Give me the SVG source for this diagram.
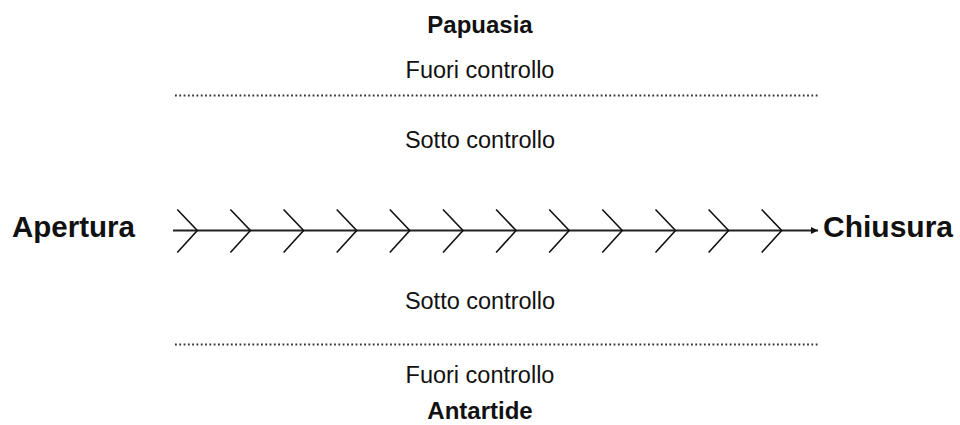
<svg xmlns="http://www.w3.org/2000/svg" width="960" height="425" viewBox="0 0 960 425">
<style>
.t{font-family:"Liberation Sans",Arial,sans-serif;fill:#111;}
.b{font-weight:bold;}
.c{text-anchor:middle;}
.dot{stroke:#333;stroke-width:1.8;stroke-dasharray:1.8 2.5;fill:none;}
.chev{stroke:#111;stroke-width:1.6;fill:none;}
</style>
<defs>
<marker id="ah" viewBox="0 0 10 10" refX="10" refY="5" markerWidth="7" markerHeight="7" markerUnits="userSpaceOnUse" orient="auto"><path d="M0,0 L10,5 L0,10 z" fill="#111"/></marker>
<path id="cv" d="M-20,-21 L0,0 L-20,22" class="chev"/>
</defs>
<g id="papuasia"><text class="t b c" x="480" y="33" font-size="24">Papuasia</text></g>
<g id="fuori-top"><text class="t c" x="480" y="78" font-size="23.5">Fuori controllo</text></g>
<g id="sotto-top"><text class="t c" x="480" y="148" font-size="23.5">Sotto controllo</text></g>
<g id="apertura"><text class="t b" x="12" y="237" font-size="29.5">Apertura</text></g>
<g id="chiusura"><text class="t b" x="823" y="237" font-size="30">Chiusura</text></g>
<g id="sotto-bottom"><text class="t c" x="480" y="309" font-size="23.5">Sotto controllo</text></g>
<g id="fuori-bottom"><text class="t c" x="480" y="383" font-size="23.5">Fuori controllo</text></g>
<g id="antartide"><text class="t b c" x="480" y="419" font-size="24">Antartide</text></g>
<g id="connectors">
<line class="dot" x1="175" y1="95.5" x2="818" y2="95.5"/>
<line class="dot" x1="175" y1="344.5" x2="818" y2="344.5"/>
<line x1="173" y1="230.5" x2="818" y2="230.5" stroke="#222" stroke-width="1.8" marker-end="url(#ah)"/>
<use href="#cv" x="197.3" y="230.5"/>
<use href="#cv" x="250.4" y="230.5"/>
<use href="#cv" x="303.6" y="230.5"/>
<use href="#cv" x="356.7" y="230.5"/>
<use href="#cv" x="409.8" y="230.5"/>
<use href="#cv" x="463" y="230.5"/>
<use href="#cv" x="516.1" y="230.5"/>
<use href="#cv" x="569.2" y="230.5"/>
<use href="#cv" x="622.3" y="230.5"/>
<use href="#cv" x="675.5" y="230.5"/>
<use href="#cv" x="728.6" y="230.5"/>
<use href="#cv" x="781.7" y="230.5"/>
</g>
</svg>
